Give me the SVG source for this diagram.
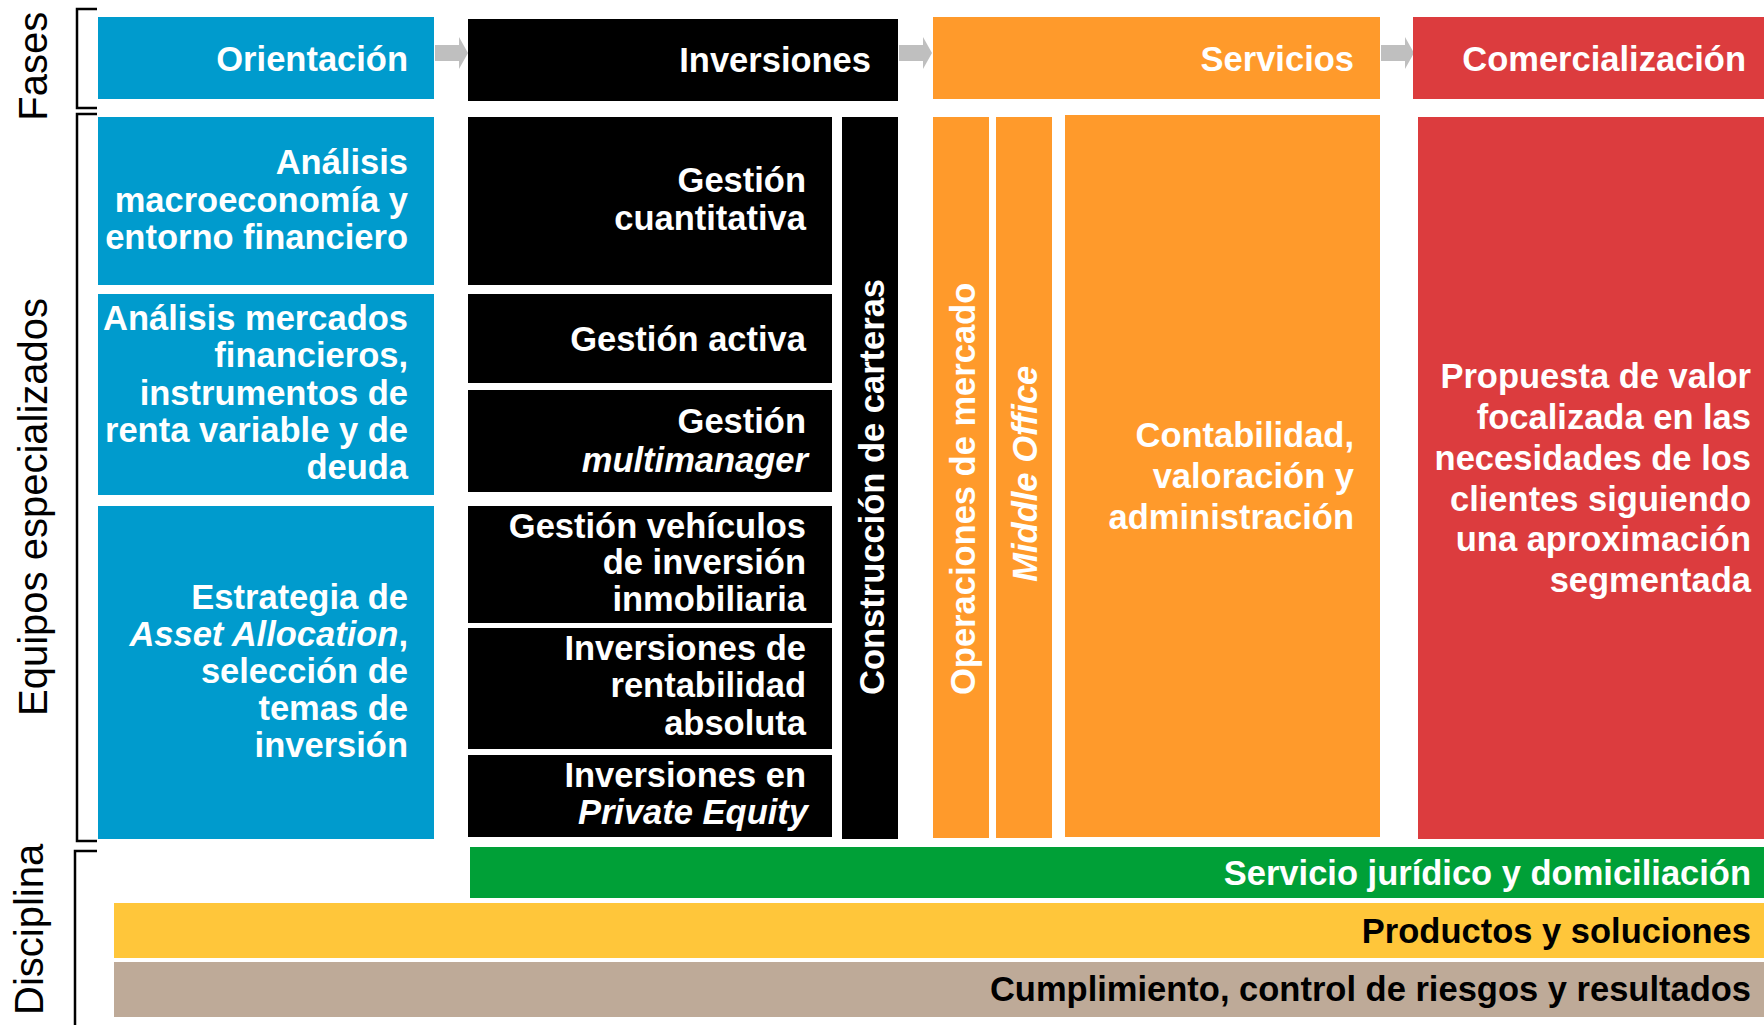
<svg xmlns="http://www.w3.org/2000/svg" width="1764" height="1025" viewBox="0 0 1764 1025">
<style>
text{font-family:"Liberation Sans",Arial,sans-serif}
.t{font-size:34.5px;font-weight:bold;fill:#fff;text-anchor:end}
.k{fill:#000}
.side{font-size:40px;fill:#000}
.vt{font-size:34.5px;font-weight:bold;fill:#fff}
.i{font-style:italic}
.blue{fill:#009BCD}
.blk{fill:#000}
.org{fill:#FF9A2B}
.red{fill:#DC3C3E}
.grn{fill:#00A037}
.yel{fill:#FFC63A}
.tan{fill:#BEAA98}
.br{fill:none;stroke:#000;stroke-width:2.5}
</style>
<defs>
<polygon id="arr" points="0,45 24,45 24,37 33,53 24,69 24,61 0,61" fill="#BFBFBF"/>
</defs>
<rect width="1764" height="1025" fill="#fff"/>

<g id="labels">
<path class="br" d="M97,9 H77 V108 H97"/>
<path class="br" d="M97,114 H77 V841 H97"/>
<path class="br" d="M97,851 H75 V1025"/>
<text class="side" transform="translate(46.5,120.7) rotate(-90)">Fases</text>
<text class="side" transform="translate(47,716) rotate(-90)">Equipos especializados</text>
<text class="side" transform="translate(43,1015) rotate(-90)">Disciplina</text>
</g>

<g id="connectors">
<use href="#arr" x="435"/>
<use href="#arr" x="899"/>
<use href="#arr" x="1381"/>
</g>

<g id="orientacion">
<rect class="blue" x="98" y="17" width="336" height="82"/>
<text class="t" x="408" y="71">Orientación</text>
</g>
<g id="inversiones">
<rect class="blk" x="468" y="19" width="430" height="82"/>
<text class="t" x="871" y="72">Inversiones</text>
</g>
<g id="servicios">
<rect class="org" x="933" y="17" width="447" height="82"/>
<text class="t" x="1354" y="71">Servicios</text>
</g>
<g id="comercializacion">
<rect class="red" x="1413" y="17" width="351" height="82"/>
<text class="t" x="1746" y="71">Comercialización</text>
</g>

<g id="analisis-macro">
<rect class="blue" x="98" y="117" width="336" height="168"/>
<text class="t" x="408" y="174">Análisis</text>
<text class="t" x="408" y="211.5">macroeconomía y</text>
<text class="t" x="408" y="248.5">entorno financiero</text>
</g>
<g id="analisis-mercados">
<rect class="blue" x="98" y="294" width="336" height="201"/>
<text class="t" x="408" y="330">Análisis mercados</text>
<text class="t" x="408" y="367.3">financieros,</text>
<text class="t" x="408" y="404.5">instrumentos de</text>
<text class="t" x="408" y="441.8">renta variable y de</text>
<text class="t" x="408" y="479">deuda</text>
</g>
<g id="estrategia">
<rect class="blue" x="98" y="506" width="336" height="333"/>
<text class="t" x="408" y="609">Estrategia de</text>
<text class="t" x="408" y="646"><tspan class="i">Asset Allocation</tspan>,</text>
<text class="t" x="408" y="683">selección de</text>
<text class="t" x="408" y="720">temas de</text>
<text class="t" x="408" y="757">inversión</text>
</g>

<g id="gestion-cuantitativa">
<rect class="blk" x="468" y="117" width="364" height="168"/>
<text class="t" x="806" y="192.3">Gestión</text>
<text class="t" x="806" y="230">cuantitativa</text>
</g>
<g id="gestion-activa">
<rect class="blk" x="468" y="294" width="364" height="89"/>
<text class="t" x="806" y="350.7">Gestión activa</text>
</g>
<g id="gestion-multimanager">
<rect class="blk" x="468" y="390" width="364" height="102"/>
<text class="t" x="806" y="433.3">Gestión</text>
<text class="t i" x="808" y="472">multimanager</text>
</g>
<g id="gestion-vehiculos">
<rect class="blk" x="468" y="506" width="364" height="117"/>
<text class="t" x="806" y="538">Gestión vehículos</text>
<text class="t" x="806" y="574.3">de inversión</text>
<text class="t" x="806" y="611">inmobiliaria</text>
</g>
<g id="rentabilidad-absoluta">
<rect class="blk" x="468" y="628" width="364" height="121"/>
<text class="t" x="806" y="660">Inversiones de</text>
<text class="t" x="806" y="697.3">rentabilidad</text>
<text class="t" x="806" y="735">absoluta</text>
</g>
<g id="private-equity">
<rect class="blk" x="468" y="755" width="364" height="82"/>
<text class="t" x="806" y="787.3">Inversiones en</text>
<text class="t i" x="808" y="824.3">Private Equity</text>
</g>
<g id="construccion-carteras">
<rect class="blk" x="842" y="117" width="56" height="722"/>
<text class="vt" transform="translate(883.6,695) rotate(-90)">Construcción de carteras</text>
</g>

<g id="operaciones-mercado">
<rect class="org" x="933" y="117" width="56" height="721"/>
<text class="vt" transform="translate(975.4,695) rotate(-90)">Operaciones de mercado</text>
</g>
<g id="middle-office">
<rect class="org" x="996" y="117" width="56" height="721"/>
<text class="vt i" transform="translate(1037,581.7) rotate(-90)">Middle Office</text>
</g>
<g id="contabilidad">
<rect class="org" x="1065" y="115" width="315" height="722"/>
<text class="t" x="1354" y="446.7">Contabilidad,</text>
<text class="t" x="1354" y="488">valoración y</text>
<text class="t" x="1354" y="529.3">administración</text>
</g>

<g id="propuesta-valor">
<rect class="red" x="1418" y="117" width="346" height="722"/>
<text class="t" x="1751" y="388.3">Propuesta de valor</text>
<text class="t" x="1751" y="429">focalizada en las</text>
<text class="t" x="1751" y="469.8">necesidades de los</text>
<text class="t" x="1751" y="510.6">clientes siguiendo</text>
<text class="t" x="1751" y="551.4">una aproximación</text>
<text class="t" x="1751" y="592.2">segmentada</text>
</g>

<g id="servicio-juridico">
<rect class="grn" x="470" y="847" width="1294" height="51"/>
<text class="t" x="1751" y="885">Servicio jurídico y domiciliación</text>
</g>
<g id="productos-soluciones">
<rect class="yel" x="114" y="903" width="1650" height="55"/>
<text class="t k" x="1751" y="942.7">Productos y soluciones</text>
</g>
<g id="cumplimiento">
<rect class="tan" x="114" y="962" width="1650" height="55"/>
<text class="t k" x="1751" y="1001">Cumplimiento, control de riesgos y resultados</text>
</g>
</svg>
